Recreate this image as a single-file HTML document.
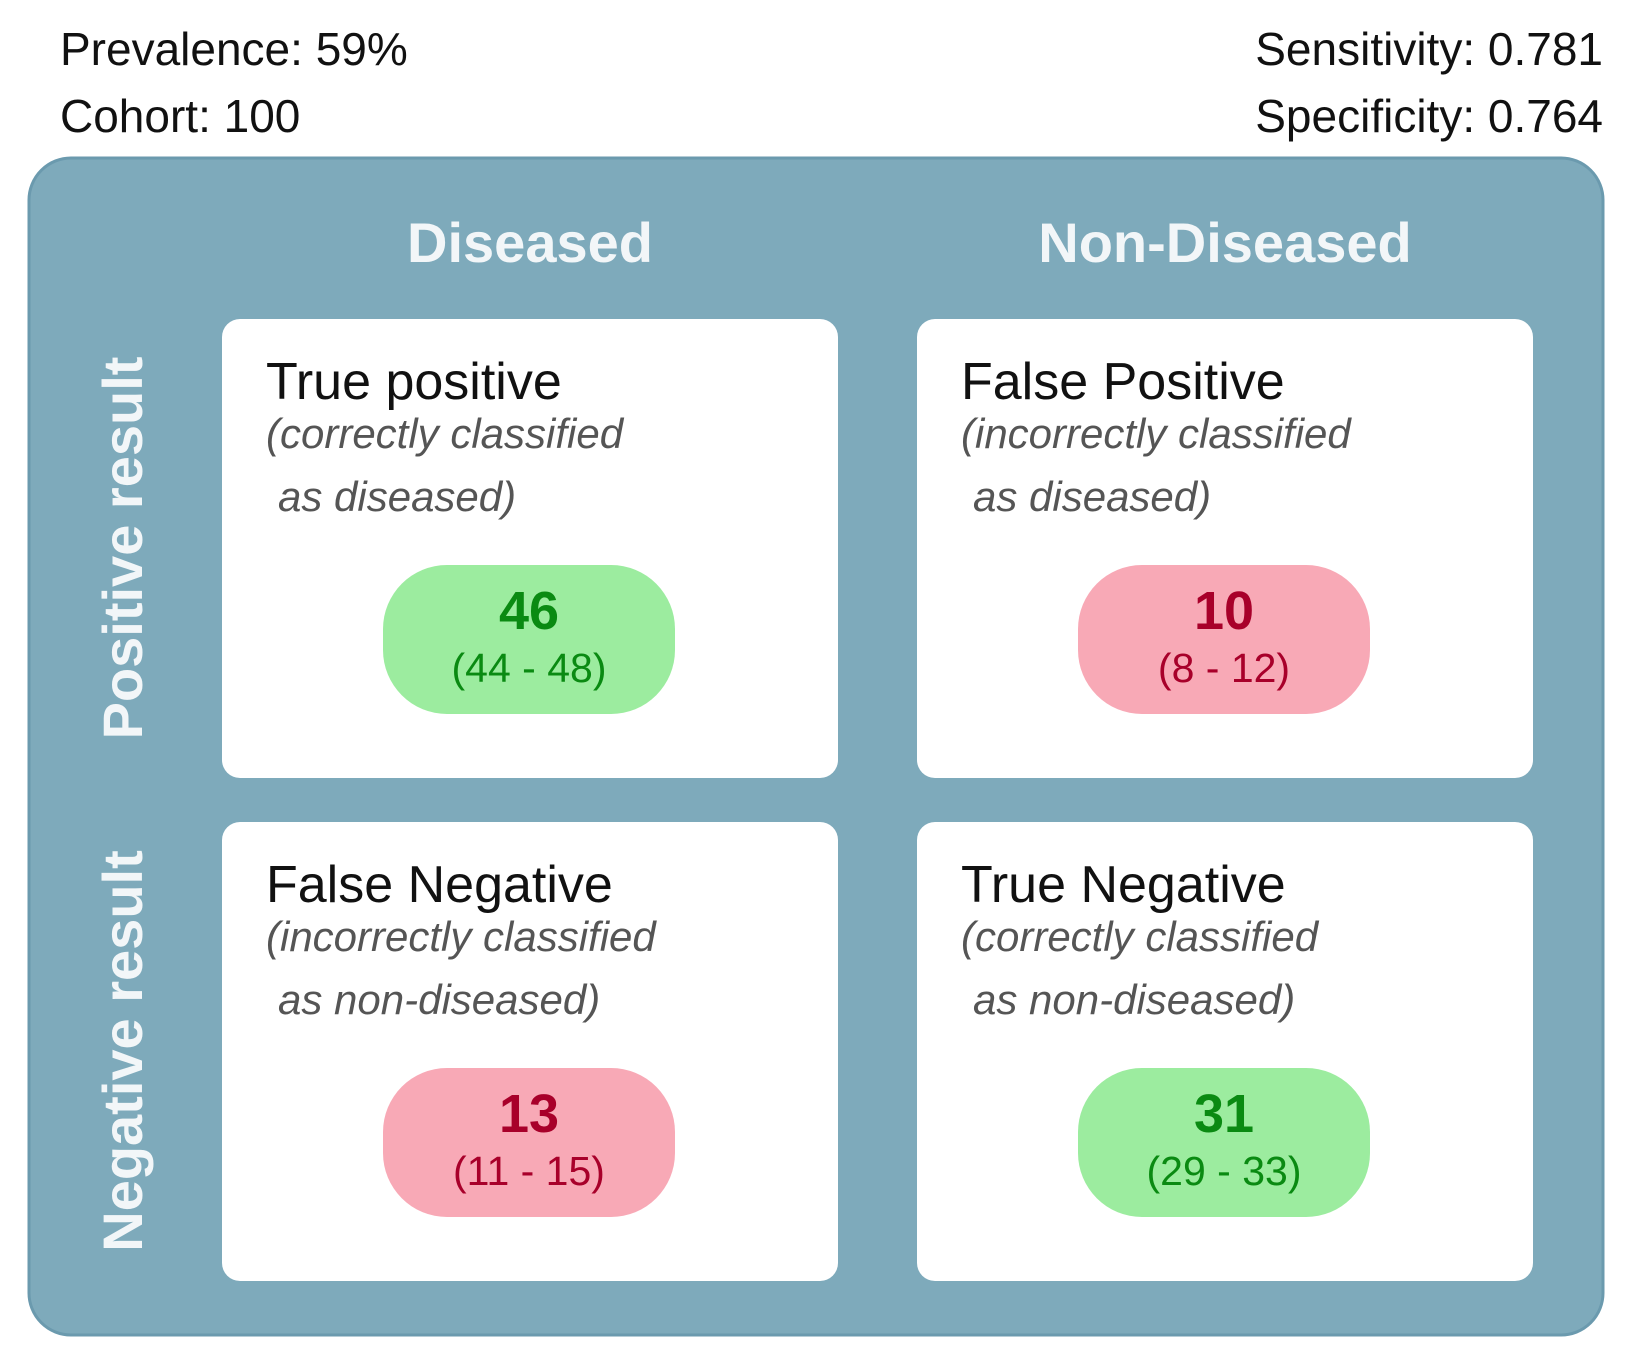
<!DOCTYPE html>
<html><head><meta charset="utf-8"><style>
html,body{margin:0;padding:0;background:#fff;}
svg{display:block;font-family:"Liberation Sans",Arial,sans-serif;}
</style></head><body>
<svg id="chart" width="1634" height="1360" viewBox="0 0 1634 1360">
<text x="60" y="65" font-size="46" fill="#111">Prevalence: 59%</text>
<text x="60" y="132" font-size="46" fill="#111">Cohort: 100</text>
<text x="1603" y="65" font-size="46" fill="#111" text-anchor="end">Sensitivity: 0.781</text>
<text x="1603" y="132" font-size="46" fill="#111" text-anchor="end">Specificity: 0.764</text>
<rect x="29" y="158" width="1574" height="1177" rx="42" fill="#7eaabb" stroke="#6b9aae" stroke-width="3"/>
<text x="530" y="262" font-size="56" font-weight="bold" fill="#f2f6f8" text-anchor="middle">Diseased</text>
<text x="1225" y="262" font-size="56" font-weight="bold" fill="#f2f6f8" text-anchor="middle">Non-Diseased</text>
<text transform="translate(142,548) rotate(-90)" font-size="56" font-weight="bold" fill="#f2f6f8" text-anchor="middle">Positive result</text>
<text transform="translate(142,1051) rotate(-90)" font-size="56" font-weight="bold" fill="#f2f6f8" text-anchor="middle">Negative result</text>
<g id="cells"></g>
</svg>
<script>
const titles = ["True positive","False Positive","False Negative","True Negative"];
const sub1 = ["(correctly classified","(incorrectly classified","(incorrectly classified","(correctly classified"];
const sub2 = ["as diseased)","as diseased)","as non-diseased)","as non-diseased)"];
const counts = [46,10,13,31];
const lows = [44,8,11,29];
const highs = [48,12,15,33];
const correct = [true,false,false,true];

const NS="http://www.w3.org/2000/svg";
const g=document.getElementById('cells');
const colX=[222,917], rowY=[319,822], cw=616, ch=459;
function mk(tag,attrs,parent){const e=document.createElementNS(NS,tag);for(const k in attrs)e.setAttribute(k,attrs[k]);parent.appendChild(e);return e;}
counts.forEach((v,i)=>{
  const x=colX[i%2], y=rowY[Math.floor(i/2)];
  const cell=mk('g',{},g);
  
  
  const r=mk('rect',{x:x,y:y,width:cw,height:ch,rx:18,fill:'#fff'},cell);
  
  
  const t=mk('text',{x:x+44,y:y+80,'font-size':52,fill:'#111'},cell);t.textContent=titles[i];
  
  
  const s1=mk('text',{x:x+44,y:y+129,'font-size':42,'font-style':'italic',fill:'#555'},cell);s1.textContent=sub1[i];
  
  
  const s2=mk('text',{x:x+56,y:y+192,'font-size':42,'font-style':'italic',fill:'#555'},cell);s2.textContent=sub2[i];
  
  
  const px=x+161, py=y+246, pw=292, ph=149;
  const pill=mk('rect',{x:px,y:py,width:pw,height:ph,rx:64,fill:correct[i]?'#9cec9f':'#f8a9b6'},cell);
  
  
  const tc=correct[i]?'#0a8a12':'#a8002a';
  const n=mk('text',{x:px+pw/2,y:py+64,'font-size':54,'font-weight':'bold',fill:tc,'text-anchor':'middle'},cell);n.textContent=v;
  
  
  const rg=mk('text',{x:px+pw/2,y:py+117,'font-size':41,fill:tc,'text-anchor':'middle'},cell);rg.textContent='('+lows[i]+' - '+highs[i]+')';
  
  
});
</script>
</body></html>
